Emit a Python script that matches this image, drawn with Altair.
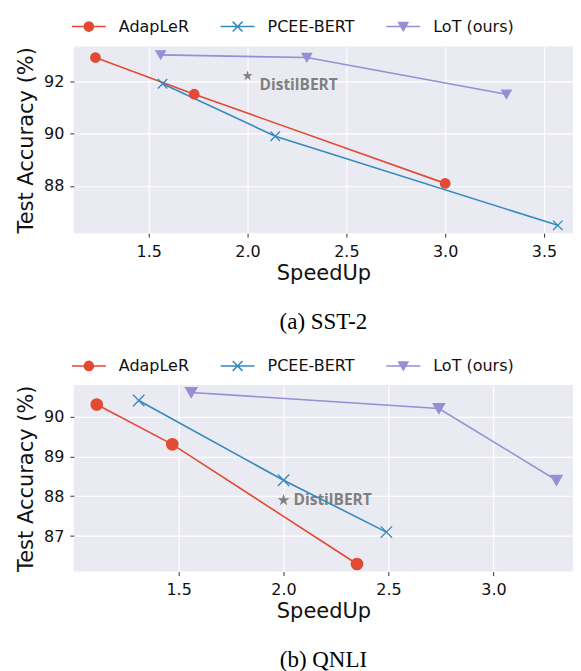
import altair as alt
import pandas as pd

methods = ["AdapLeR", "PCEE-BERT", "LoT (ours)"]
colors = ["#E24A33", "#348ABD", "#988ED5"]

# (a) SST-2
sst_adapler_speedup = [1.23, 1.73, 3.00]
sst_adapler_acc = [92.9, 91.5, 88.1]
sst_pcee_speedup = [1.57, 2.14, 3.57]
sst_pcee_acc = [91.9, 89.9, 86.5]
sst_lot_speedup = [1.56, 2.30, 3.31]
sst_lot_acc = [93.0, 92.9, 91.5]
sst_distil_speedup = [2.0]
sst_distil_acc = [92.2]

# (b) QNLI
qnli_adapler_speedup = [1.11, 1.47, 2.35]
qnli_adapler_acc = [90.3, 89.3, 86.3]
qnli_pcee_speedup = [1.31, 2.00, 2.49]
qnli_pcee_acc = [90.4, 88.4, 87.1]
qnli_lot_speedup = [1.56, 2.74, 3.30]
qnli_lot_acc = [90.6, 90.2, 88.4]
qnli_distil_speedup = [2.0]
qnli_distil_acc = [87.9]

distil_label = ["DistilBERT"]

sst_x_ticks = [1.5, 2.0, 2.5, 3.0, 3.5]
sst_y_ticks = [88, 90, 92]
qnli_x_ticks = [1.5, 2.0, 2.5, 3.0]
qnli_y_ticks = [87, 88, 89, 90]

# marker shapes
plot_shapes = ["circle", "M-1,-1L1,1M-1,1L1,-1", "triangle-down"]
legend_shapes = [
    "M-1,0H1M0.27,0A0.27,0.27,0,1,1,-0.27,0A0.27,0.27,0,1,1,0.27,0Z",
    "M-1,0H1M-0.29,-0.29L0.29,0.29M-0.29,0.29L0.29,-0.29",
    "M-1,0H1M-0.27,-0.24L0.27,-0.24L0,0.24Z",
]
star_path = ("M0,-1L0.225,-0.309L0.951,-0.309L0.363,0.118L0.588,0.809L0,0.382"
             "L-0.588,0.809L-0.363,0.118L-0.951,-0.309L-0.225,-0.309Z")


def make_df(xs_list, ys_list):
    rows = []
    for m, xs, ys in zip(methods, xs_list, ys_list):
        for xv, yv in zip(xs, ys):
            rows.append({"speedup": xv, "acc": yv, "method": m})
    return pd.DataFrame(rows)


def panel(df, distil_df, xdom, ydom, xticks, yticks, msize, star_size,
          caption, legend_y, text_dx, text_dy):
    x = alt.X("speedup:Q", scale=alt.Scale(domain=xdom, nice=False, zero=False),
              axis=alt.Axis(values=xticks, format=".1f", title="SpeedUp"))
    y = alt.Y("acc:Q", scale=alt.Scale(domain=ydom, nice=False, zero=False),
              axis=alt.Axis(values=yticks, format="d", title="Test Accuracy (%)"))
    cscale = alt.Scale(domain=methods, range=colors)

    text = alt.Chart(distil_df).mark_text(
        align="left", baseline="middle", dx=text_dx, dy=text_dy,
        font="Open Sans", fontSize=15.5, fontWeight="bold", color="#808080"
    ).encode(x=x, y=y, text="label:N")

    star = alt.Chart(distil_df).mark_point(
        shape=star_path, filled=True, opacity=1, color="#808080", size=star_size
    ).encode(x=x, y=y)

    lines = alt.Chart(df).mark_line(strokeWidth=1.6).encode(
        x=x, y=y, stroke=alt.Stroke("method:N", scale=cscale, legend=None)
    )

    points = alt.Chart(df).mark_point(
        filled=True, opacity=1, size=msize, strokeWidth=1.3
    ).encode(
        x=x, y=y,
        fill=alt.Fill("method:N", scale=cscale, legend=None),
        stroke=alt.Stroke("method:N", scale=cscale, legend=None),
        shape=alt.Shape("method:N", scale=alt.Scale(domain=methods, range=plot_shapes), legend=None),
    )

    leg = alt.Legend(
        title=None, orient="none", legendX=-3, legendY=legend_y,
        direction="horizontal", columns=3, columnPadding=28,
        labelOffset=12, labelFont="DejaVu Sans", labelFontSize=16,
        labelColor="#111111", symbolSize=1156, symbolStrokeWidth=1.5,
        padding=0,
    )
    legend_layer = alt.Chart(df).transform_filter("false").mark_point(
        filled=True, opacity=1, size=1156, strokeWidth=1.5
    ).encode(
        fill=alt.Fill("method:N", scale=cscale, legend=leg),
        stroke=alt.Stroke("method:N", scale=cscale, legend=leg),
        shape=alt.Shape("method:N", scale=alt.Scale(domain=methods, range=legend_shapes), legend=leg),
    )

    return alt.layer(text, star, lines, points, legend_layer).resolve_scale(
        fill="independent", stroke="independent", shape="independent"
    ).properties(
        width=500, height=187,
        view=alt.ViewBackground(fill="#EAEAF2", strokeWidth=0),
        title=alt.TitleParams(caption, orient="bottom", anchor="middle", offset=28,
                              font="Liberation Serif", fontSize=23,
                              fontWeight="normal", color="black"),
    )


sst_df = make_df([sst_adapler_speedup, sst_pcee_speedup, sst_lot_speedup],
                 [sst_adapler_acc, sst_pcee_acc, sst_lot_acc])
sst_distil = pd.DataFrame({"speedup": sst_distil_speedup, "acc": sst_distil_acc, "label": distil_label})
qnli_df = make_df([qnli_adapler_speedup, qnli_pcee_speedup, qnli_lot_speedup],
                  [qnli_adapler_acc, qnli_pcee_acc, qnli_lot_acc])
qnli_distil = pd.DataFrame({"speedup": qnli_distil_speedup, "acc": qnli_distil_acc, "label": distil_label})

top = panel(sst_df, sst_distil, [1.121, 3.647], [86.2, 93.32], sst_x_ticks, sst_y_ticks,
            90, 115, "(a) SST-2", -38, 12, 9)
bottom = panel(qnli_df, qnli_distil, [1.001, 3.379], [86.11, 90.79], qnli_x_ticks, qnli_y_ticks,
               130, 160, "(b) QNLI", -37, 10, 0)

chart = alt.vconcat(top, bottom, spacing=14).resolve_scale(
    fill="independent", stroke="independent", shape="independent"
).resolve_legend(
    fill="independent", stroke="independent", shape="independent"
).properties(
    padding={"left": 7, "top": 0, "right": 0, "bottom": 0}
).configure_view(
    fill="#EAEAF2", strokeWidth=0
).configure_axis(
    domain=False, grid=True, gridColor="white", gridWidth=1.2,
    tickColor="#333333", tickSize=4, tickWidth=1, labelPadding=6,
    labelFont="DejaVu Sans", labelFontSize=16, labelColor="#111111",
    titleFont="DejaVu Sans", titleFontSize=21, titleFontWeight="normal",
    titleColor="#111111",
).configure_axisX(
    titlePadding=3
).configure_axisY(
    titlePadding=7
)

chart.save("out.html", embed_options={"renderer": "svg", "actions": False})
